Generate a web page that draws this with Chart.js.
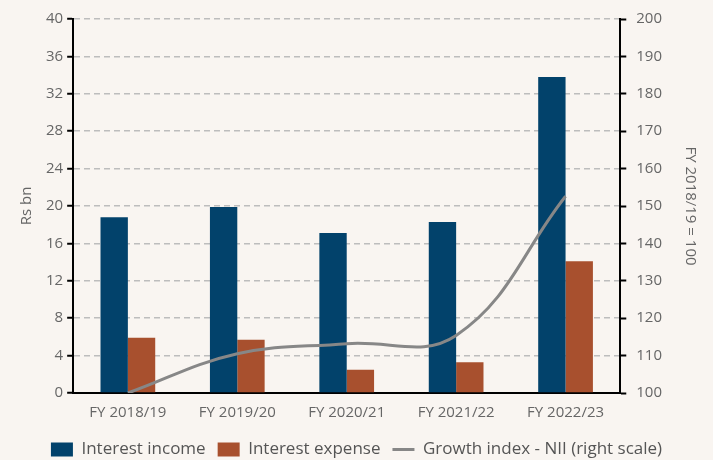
<!DOCTYPE html>
<html>
<head>
<meta charset="utf-8">
<script src="https://cdn.jsdelivr.net/npm/chart.js@4"></script>
<style>
  html, body { margin: 0; padding: 0; background: #f9f5f1; }
  #wrap { width: 713px; height: 460px; }
</style>
</head>
<body>
<div id="wrap"><canvas id="myChart" width="713" height="460"></canvas></div>
<script>
// donnees
const categories = ["FY 2018/19", "FY 2019/20", "FY 2020/21", "FY 2021/22", "FY 2022/23"];
const interestIncome = [18.8, 19.9, 17.1, 18.3, 33.8];
const interestExpense = [5.9, 5.7, 2.5, 3.3, 14.1];
const growthIndex = [100, 110.5, 113.2, 115.4, 152.6];

const blue = "#02426b";
const orange = "#a8502e";
const grey = "#878787";
const txt = "#666666";

// fond de la toile
const bgPlugin = {
  id: "bg",
  beforeDraw(chart) {
    const c = chart.ctx;
    c.save();
    c.fillStyle = "#f9f5f1";
    c.fillRect(0, 0, chart.width, chart.height);
    c.restore();
  }
};

Chart.defaults.font.family = "'Open Sans', sans-serif";
Chart.defaults.font.size = 15;
Chart.defaults.color = txt;

new Chart(document.getElementById("myChart"), {
  type: "bar",
  data: {
    labels: categories,
    datasets: [
      {
        type: "line",
        label: "Growth index - NII (right scale)",
        data: growthIndex,
        yAxisID: "y2",
        borderColor: grey,
        backgroundColor: grey,
        borderWidth: 3,
        pointRadius: 0,
        tension: 0.4,
        order: 0
      },
      {
        label: "Interest income",
        data: interestIncome,
        backgroundColor: blue,
        yAxisID: "y",
        order: 1
      },
      {
        label: "Interest expense",
        data: interestExpense,
        backgroundColor: orange,
        yAxisID: "y",
        order: 1
      }
    ]
  },
  options: {
    responsive: false,
    animation: false,
    layout: { padding: { left: 12, right: 12, top: 13, bottom: -8 } },
    datasets: { bar: { categoryPercentage: 0.5, barPercentage: 1 } },
    plugins: {
      tooltip: { enabled: false },
      legend: {
        position: "bottom",
        labels: {
          color: "#555",
          font: { size: 17 },
          padding: 12,
          boxWidth: 14,
          boxHeight: 14,
          generateLabels(chart) {
            const ds = chart.data.datasets;
            return [1, 2, 0].map(i => ({
              text: ds[i].label,
              fillStyle: ds[i].backgroundColor,
              strokeStyle: ds[i].type === "line" ? grey : ds[i].backgroundColor,
              lineWidth: ds[i].type === "line" ? 3 : 0,
              pointStyle: ds[i].type === "line" ? "line" : "rect",
              fontColor: "#555",
              datasetIndex: i
            }));
          },
          usePointStyle: true,
          pointStyleWidth: 22
        }
      }
    },
    scales: {
      x: {
        grid: { display: false },
        border: { display: true, color: "#000", width: 2 },
        ticks: { color: txt, padding: 3 },
        afterFit(scale) { scale.height += 4; }
      },
      y: {
        position: "left",
        min: 0,
        max: 40,
        ticks: { stepSize: 4, color: txt, padding: 4 },
        grid: { color: "#bdbdbd", lineWidth: 1.5, tickColor: "#000", tickLength: 6, tickWidth: 2 },
        border: { color: "#000", width: 2, dash: [6, 4] },
        title: { display: true, text: "Rs bn", color: txt, font: { size: 15 }, padding: 6 }
      },
      y2: {
        position: "right",
        min: 100,
        max: 200,
        ticks: { stepSize: 10, color: txt, padding: 10 },
        grid: { drawOnChartArea: false, tickColor: "#000", tickLength: 6, tickWidth: 2 },
        border: { color: "#000", width: 2 },
        title: { display: true, text: "FY 2018/19 = 100", color: txt, font: { size: 15 }, padding: { top: 2, bottom: 9 } }
      }
    }
  },
  plugins: [bgPlugin]
});
</script>
</body>
</html>
